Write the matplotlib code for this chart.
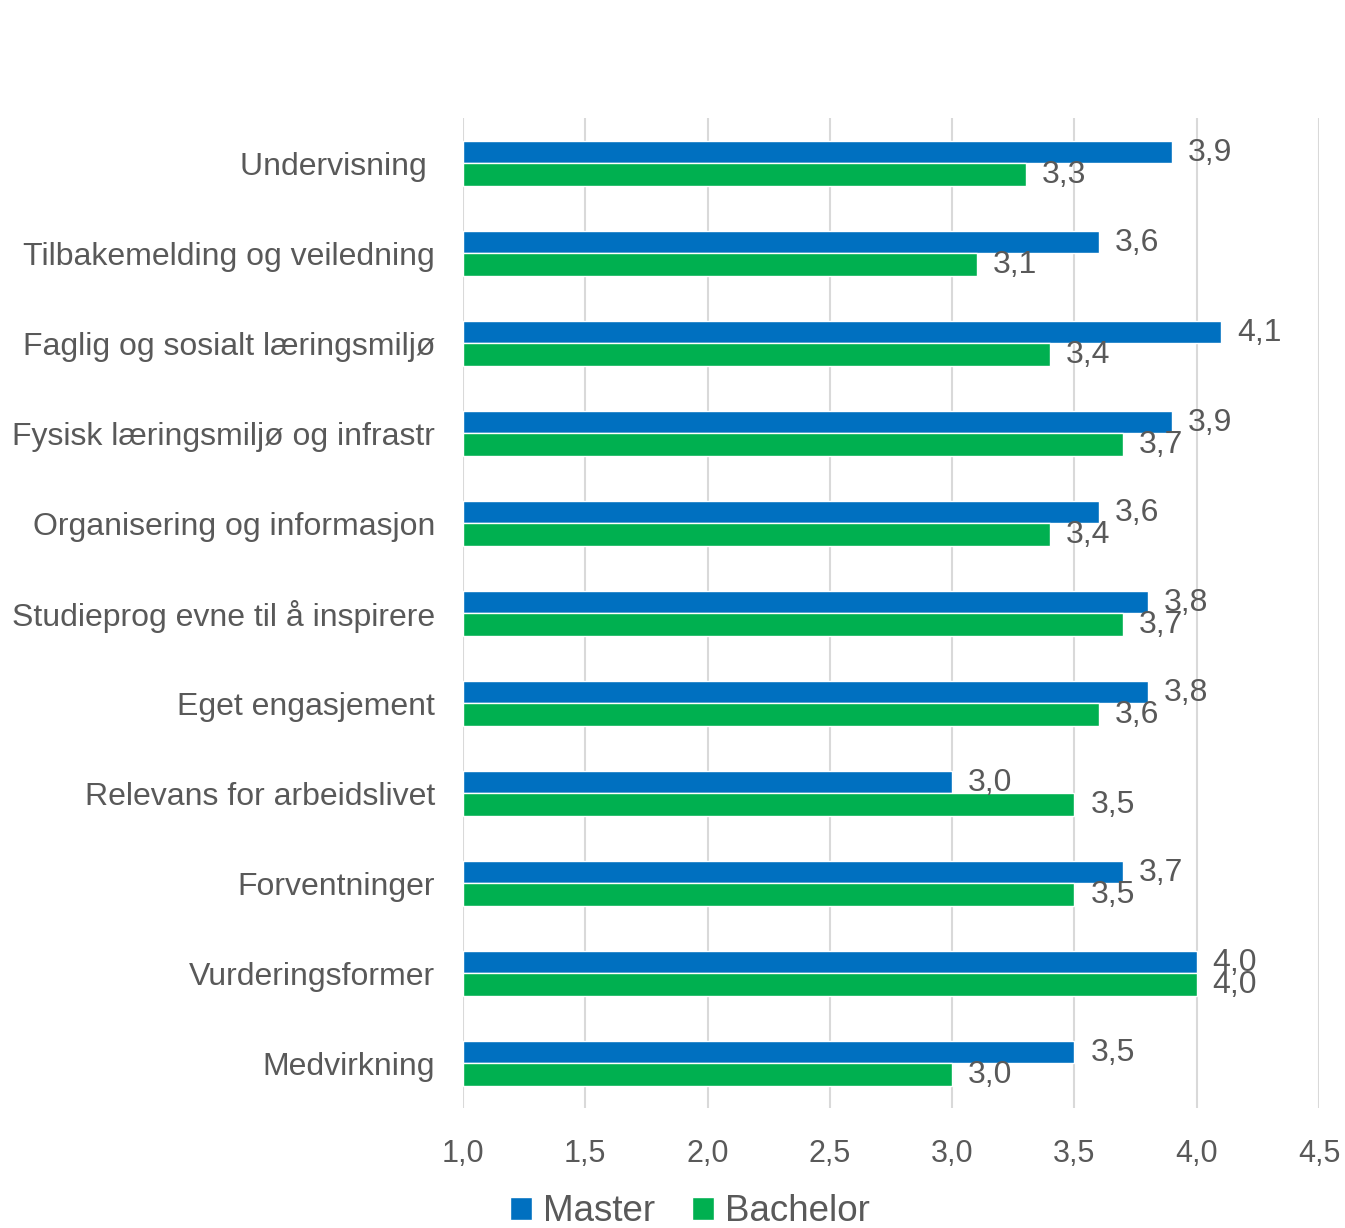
import numpy as np
import matplotlib.pyplot as plt

plt.rcParams["font.family"] = ["Liberation Sans", "DejaVu Sans"]

# data
categories = [
    "Undervisning ",
    "Tilbakemelding og veiledning",
    "Faglig og sosialt læringsmiljø",
    "Fysisk læringsmiljø og infrastr",
    "Organisering og informasjon",
    "Studieprog evne til å inspirere",
    "Eget engasjement",
    "Relevans for arbeidslivet",
    "Forventninger",
    "Vurderingsformer",
    "Medvirkning",
]
master = [3.9, 3.6, 4.1, 3.9, 3.6, 3.8, 3.8, 3.0, 3.7, 4.0, 3.5]
bachelor = [3.3, 3.1, 3.4, 3.7, 3.4, 3.7, 3.6, 3.5, 3.5, 4.0, 3.0]
xticks = [1.0, 1.5, 2.0, 2.5, 3.0, 3.5, 4.0, 4.5]

BLUE = "#0070C0"
GREEN = "#00B050"
TEXT = "#595959"
GRID = "#D9D9D9"


def fmt(v):
    return f"{v:.1f}".replace(".", ",")


fig = plt.figure(figsize=(13.45, 12.28), dpi=100)
ax = fig.add_axes([0.3442, 0.0977, 0.6365, 0.8062])

y = np.arange(len(categories))
h = 0.25
b1 = ax.barh(y - h / 2, np.array(master) - 1.0, left=1.0, height=h,
             color=BLUE, edgecolor="white", linewidth=1, label="Master", zorder=3)
b2 = ax.barh(y + h / 2, np.array(bachelor) - 1.0, left=1.0, height=h,
             color=GREEN, edgecolor="white", linewidth=1, label="Bachelor", zorder=3)

# verdier ved enden av stolpene
for yy, v in zip(y - h / 2, master):
    ax.text(v + 0.065, yy + 0.01, fmt(v), va="center", ha="left", fontsize=23, color=TEXT)
for yy, v in zip(y + h / 2, bachelor):
    ax.text(v + 0.065, yy + 0.01, fmt(v), va="center", ha="left", fontsize=23, color=TEXT)

ax.set_xlim(1.0, 4.5)
ax.set_ylim(len(categories) - 0.5, -0.5)
ax.set_xticks(xticks)
ax.set_xticklabels([fmt(t) for t in xticks], fontsize=22, color=TEXT)
ax.set_yticks(y)
ax.set_yticklabels(categories, fontsize=23, color=TEXT)
ax.tick_params(axis="both", length=0)
ax.tick_params(axis="x", pad=22)
ax.tick_params(axis="y", pad=20)

ax.grid(axis="x", color=GRID, linewidth=1.5, zorder=0)
for s in ax.spines.values():
    s.set_visible(False)

fig.legend(handles=[b1, b2], loc="lower center", bbox_to_anchor=(0.513, -0.028),
           ncol=2, frameon=False, fontsize=26.5, handlelength=0.6, handleheight=0.6,
           handletextpad=0.3, columnspacing=1.0, labelcolor=TEXT)

fig.savefig("out.png", dpi=100)
